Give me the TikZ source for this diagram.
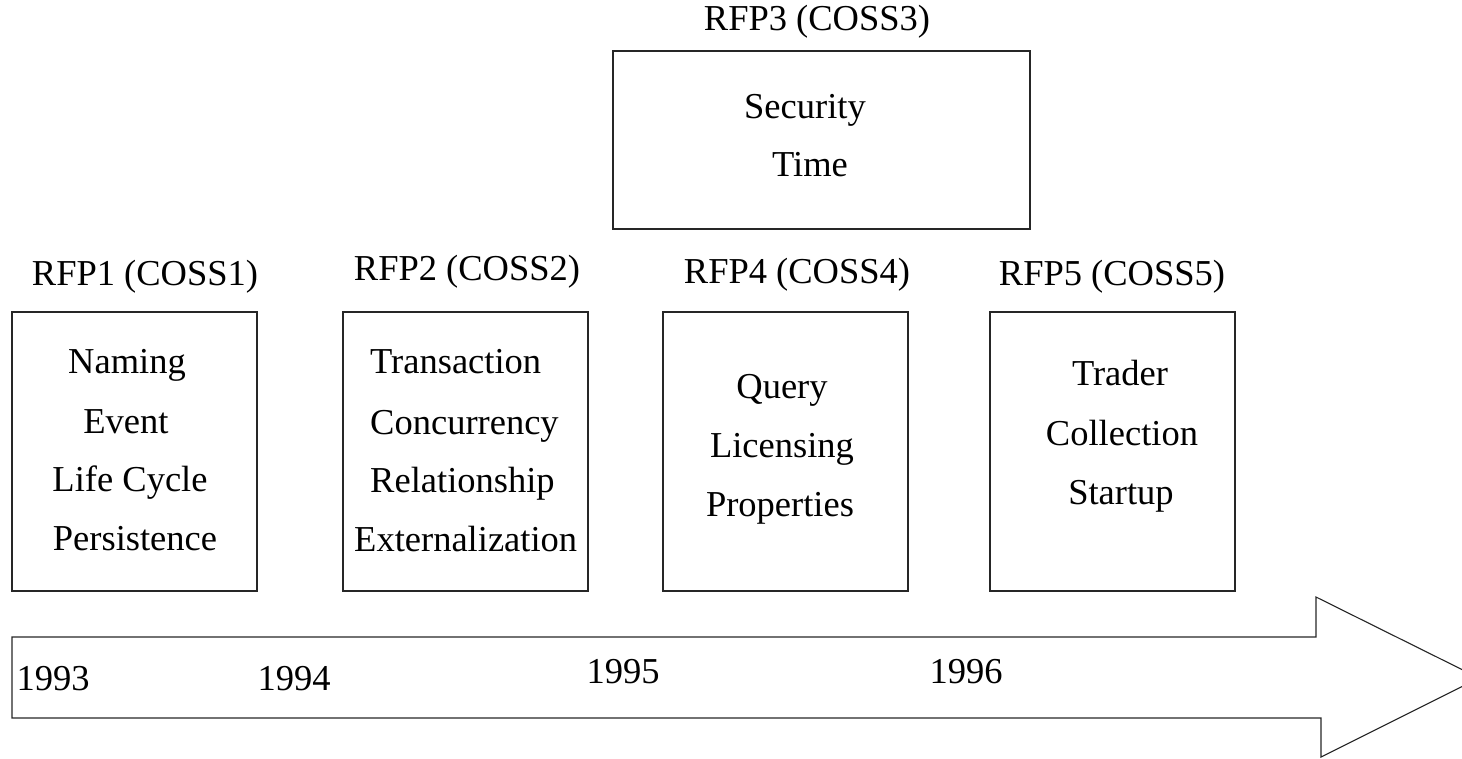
\documentclass[tikz,border=0pt]{standalone}
\usepackage{fontspec}
\setmainfont{Liberation Serif}
\begin{document}
\begin{tikzpicture}[x=1pt,y=-1pt,
  box/.style={draw=black!85, line width=1.1pt, rectangle, inner sep=0pt},
  txt/.style={inner sep=0pt, anchor=base, font=\fontsize{36.5}{44}\selectfont},
  txtl/.style={txt, anchor=base west}]
\useasboundingbox (0,0) rectangle (1462,758);
\clip (0,0) rectangle (1462,758);
% boxes
\node[box, minimum width=245pt, minimum height=279pt] (b1) at (134.5,451.5) {};
\node[box, minimum width=245pt, minimum height=279pt] (b2) at (465.5,451.5) {};
\node[box, minimum width=417pt, minimum height=178pt] (b3) at (821.5,140) {};
\node[box, minimum width=245pt, minimum height=279pt] (b4) at (785.5,451.5) {};
\node[box, minimum width=245pt, minimum height=279pt] (b5) at (1112.5,451.5) {};
% titles
\node[txt] (t1) at (145,285) {RFP1 (COSS1)};
\node[txt] (t2) at (467,280) {RFP2 (COSS2)};
\node[txt] (t3) at (817,30) {RFP3 (COSS3)};
\node[txt] (t4) at (797,283) {RFP4 (COSS4)};
\node[txt] (t5) at (1112,285) {RFP5 (COSS5)};
% box 1
\node[txt] (n1a) at (127,373) {Naming};
\node[txt] (n1b) at (126,433) {Event};
\node[txt] (n1c) at (130,491) {Life Cycle};
\node[txt] (n1d) at (135,550) {Persistence};
% box 2
\node[txtl] (n2a) at (370,373) {Transaction};
\node[txtl] (n2b) at (370,434) {Concurrency};
\node[txtl] (n2c) at (370,492) {Relationship};
\node[txtl] (n2d) at (354,551) {Externalization};
% box 3
\node[txt] (n3a) at (805,118) {Security};
\node[txt] (n3b) at (810,176) {Time};
% box 4
\node[txt] (n4a) at (782,398) {Query};
\node[txt] (n4b) at (782,457) {Licensing};
\node[txt] (n4c) at (780,516) {Properties};
% box 5
\node[txt] (n5a) at (1120,385) {Trader};
\node[txt] (n5b) at (1122,445) {Collection};
\node[txt] (n5c) at (1121,504) {Startup};
% timeline arrow
\draw[draw=black!85, line width=1.1pt, line join=miter]
  (12,637) -- (1316,637) -- (1316,597) -- (1479,678) -- (1321,757) -- (1321,718) -- (12,718) -- cycle;
% years
\node[txt] (y1) at (53,690) {1993};
\node[txt] (y2) at (294,690) {1994};
\node[txt] (y3) at (623,683) {1995};
\node[txt] (y4) at (966,683) {1996};
\end{tikzpicture}
\end{document}
